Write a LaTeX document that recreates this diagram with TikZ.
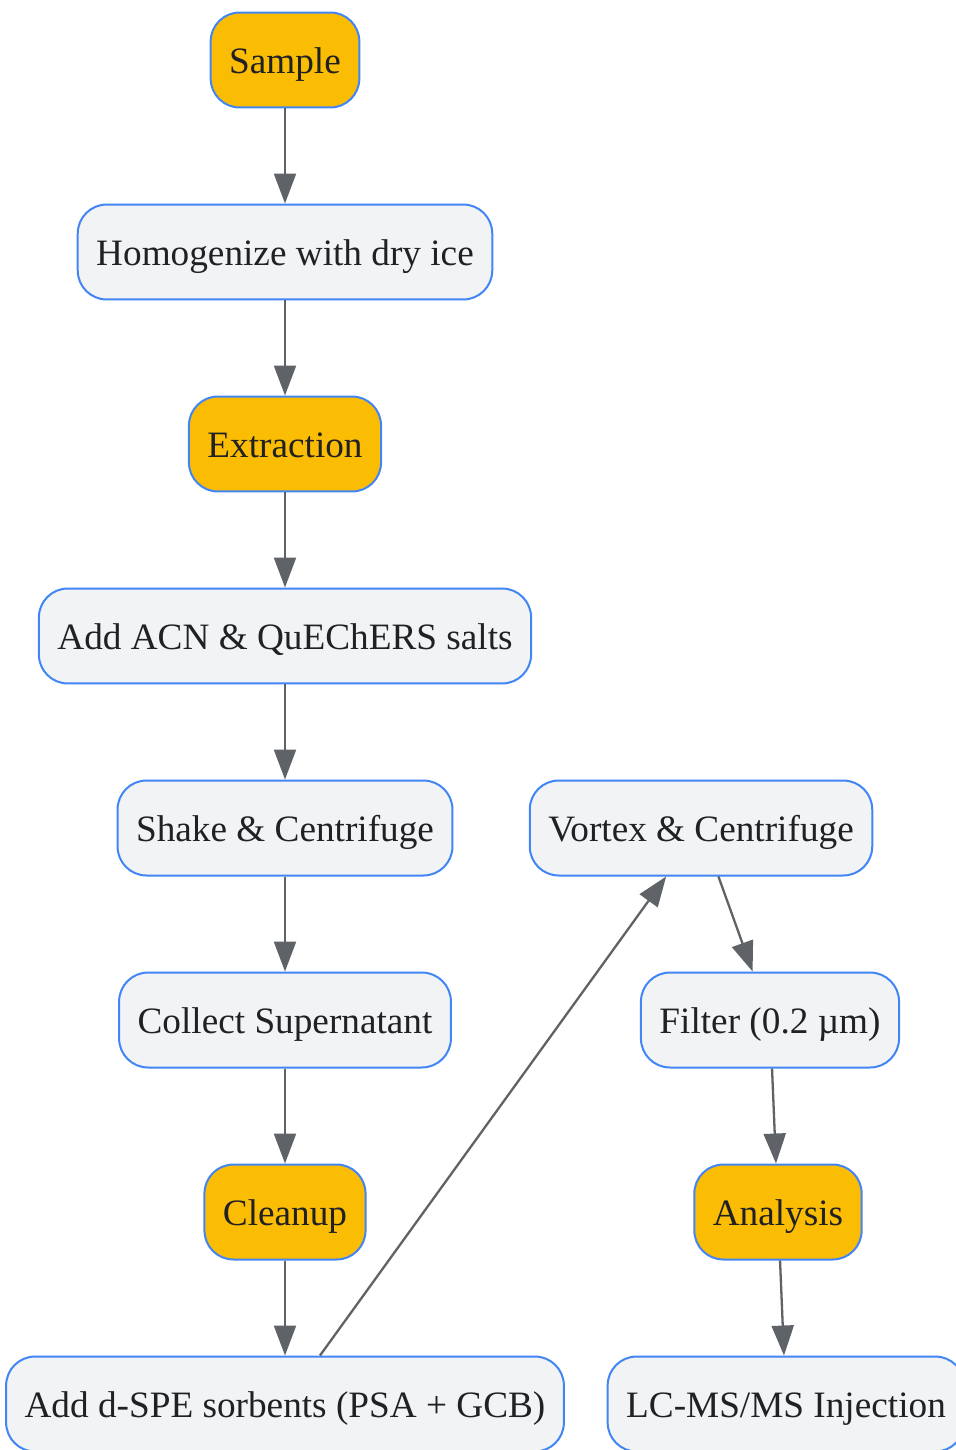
\documentclass[tikz,border=0pt]{standalone}
\usepackage{fontspec}
\setmainfont{Liberation Serif}
\usepackage{tikz}
\usetikzlibrary{calc,positioning,shapes}
\usetikzlibrary{arrows.meta}
\definecolor{stepfill}{HTML}{F1F3F4}
\definecolor{keyfill}{HTML}{FBBC04}
\definecolor{boxline}{HTML}{4285F4}
\definecolor{arrowgrey}{HTML}{5F6368}
\definecolor{txt}{HTML}{202124}
\tikzset{>={Triangle[width=0.44cm,length=0.6cm]}}

\begin{document}
\begin{tikzpicture}[x=0.02cm, y=-0.02cm]
        \useasboundingbox (0,0) rectangle (956,1450);
        \clip (0,0) rectangle (956,1450);
        \tikzstyle{snode} = [draw=boxline, line width=0.04cm, fill=stepfill, rounded corners=0.58cm, minimum height=1.9cm, inner xsep=0.37cm, text height=20pt, text depth=5pt, text=txt, font=\fontsize{21.2}{26}\selectfont]
        \tikzstyle{knode} = [snode, fill=keyfill]
        \tikzstyle{link} = [->, draw=arrowgrey, fill=arrowgrey, line width=0.046cm]

        % main column
        \node[knode] (smp) at (285,60) {Sample};
        \node[snode] (hom) at (285,252) {Homogenize with dry ice};
        \node[knode] (ext) at (285,444) {Extraction};
        \node[snode] (acn) at (285,636) {Add ACN \& QuEChERS salts};
        \node[snode] (shk) at (285,828) {Shake \& Centrifuge};
        \node[snode] (col) at (285,1020) {Collect Supernatant};
        \node[knode] (cln) at (285,1212) {Cleanup};
        \node[snode] (spe) at (285,1404) {Add d-SPE sorbents (PSA + GCB)};

        % second column
        \node[snode] (vtx) at (701,828) {Vortex \& Centrifuge};
        \node[snode] (flt) at (770,1020) {Filter (0.2 µm)};
        \node[knode] (ana) at (778,1212) {Analysis};
        \node[snode] (lcms) at (786,1404) {LC-MS/MS Injection};

        \draw[link] (smp) -- (hom);
        \draw[link] (hom) -- (ext);
        \draw[link] (ext) -- (acn);
        \draw[link] (acn) -- (shk);
        \draw[link] (shk) -- (col);
        \draw[link] (col) -- (cln);
        \draw[link] (cln) -- (spe);
        \draw[link] (spe) -- (vtx);
        \draw[link] (vtx) -- (flt);
        \draw[link] (flt) -- (ana);
        \draw[link] (ana) -- (lcms);
      \end{tikzpicture}
\end{document}
